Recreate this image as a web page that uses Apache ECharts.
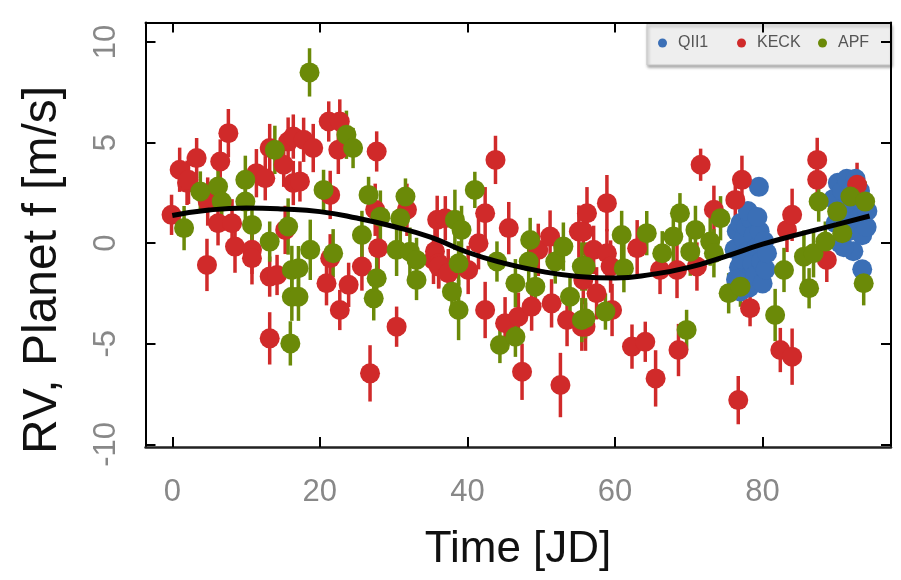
<!DOCTYPE html>
<html>
<head>
<meta charset="utf-8">
<script src="https://cdn.jsdelivr.net/npm/echarts@6/dist/echarts.min.js"></script>
<style>html,body{margin:0;padding:0;background:#fff}#chart{width:901px;height:580px}</style>
</head>
<body>
<div id="chart"></div>
<script>
// tick labels
const xTicks = [0, 20, 40, 60, 80];
const yTicks = [-10, -5, 0, 5, 10];

// series: [time, rv, error]
const qii1 = [
  [76.2,-0.3,0.3],[76.5,0.6,0.3],[76.8,-1.2,0.3],[77.0,1.0,0.3],[77.2,-0.8,0.3],[77.4,0.2,0.3],
  [77.6,-1.8,0.3],[77.8,0.8,0.3],[78.0,-0.4,0.3],[78.2,-2.2,0.3],[78.4,1.2,0.3],[78.6,-1.0,0.3],
  [78.8,0.4,0.3],[79.0,-1.6,0.3],[79.2,-0.2,0.3],[79.5,2.8,0.3],[79.6,0.6,0.3],[79.8,-0.9,0.3],
  [80.0,-2.0,0.3],[80.2,0.1,0.3],[80.4,-1.3,0.3],[80.6,-0.5,0.3],[76.4,-1.8,0.3],[77.0,-2.4,0.3],
  [78.0,1.6,0.3],[79.3,1.3,0.3],
  [89.6,2.2,0.3],[89.9,1.0,0.3],[90.2,3.0,0.3],[90.5,0.0,0.3],[90.8,2.6,0.3],[91.1,1.4,0.3],
  [91.4,3.2,0.3],[91.7,0.6,0.3],[92.0,2.0,0.3],[92.3,-0.4,0.3],[92.6,3.2,0.3],[92.9,1.2,0.3],
  [93.2,2.6,0.3],[93.5,0.4,0.3],[93.8,1.8,0.3],[94.1,0.8,0.3],[93.5,-1.3,0.3],[91.0,-0.2,0.3],
  [92.5,2.2,0.3],[94.2,1.6,0.3]
];
const keck = [
  [-0.1,1.41,1.0],[1.0,3.65,1.1],[2.0,3.0,1.1],[2.2,3.15,1.2],[3.3,4.23,1.0],[4.7,-1.08,1.3],
  [4.8,2.07,1.2],[6.2,0.99,1.1],[6.5,4.06,1.1],[7.6,5.47,1.2],[8.1,0.99,1.2],[8.5,-0.17,1.3],
  [10.8,-0.33,1.2],[10.8,-0.75,1.3],[11.4,3.48,1.2],[12.6,3.23,1.1],[13.2,-1.66,1.0],[13.2,4.73,1.2],
  [13.2,-4.73,1.3],[14.2,-1.58,1.0],[15.1,3.9,1.1],[15.3,0.66,1.2],[15.7,5.05,1.2],[16.4,2.99,1.1],
  [16.4,5.3,1.1],[17.3,3.07,1.0],[17.8,5.14,1.1],[19.1,4.73,1.2],[20.9,-1.99,1.1],[21.2,6.05,1.0],
  [21.4,2.4,1.2],[21.4,-0.75,1.2],[22.5,4.64,1.2],[22.7,6.05,1.1],[22.7,-3.32,1.0],[23.9,-2.07,1.1],
  [25.7,-1.16,1.2],[26.8,-6.47,1.4],[27.5,1.66,1.3],[27.7,4.56,1.0],[27.9,-0.25,1.2],[30.4,-4.15,1.0],
  [31.8,1.66,1.3],[35.4,-0.83,1.2],[35.6,-0.4,1.2],[35.9,1.16,1.2],[36.1,-1.0,1.2],[36.1,-1.16,1.1],
  [37.0,1.24,1.1],[37.4,-1.49,1.2],[40.1,-1.33,1.2],[41.5,0.0,1.3],[42.4,1.49,1.3],[42.4,-3.32,1.4],
  [43.8,4.14,1.2],[45.1,-3.98,1.3],[45.6,0.75,1.3],[46.9,-3.65,1.2],[47.4,-6.39,1.4],[48.7,-3.15,1.2],
  [49.6,-0.33,1.3],[51.2,0.33,1.3],[51.4,-2.99,1.2],[52.6,-7.05,1.6],[53.5,-3.82,1.3],[55.1,0.58,1.3],
  [55.5,-4.15,1.2],[55.7,0.58,1.2],[55.7,-1.83,1.2],[56.0,-4.15,1.2],[56.2,1.49,1.3],[57.1,-0.33,1.2],
  [57.5,-2.49,1.3],[58.9,1.99,1.4],[58.9,-0.5,1.2],[59.4,-1.16,1.3],[59.6,-3.32,1.3],[62.3,-5.14,1.1],
  [63.0,-0.25,1.4],[64.1,-4.9,1.0],[65.5,-6.72,1.4],[66.1,-1.33,1.2],[68.4,-1.33,1.4],[68.6,-5.31,1.3],
  [71.1,-1.16,1.2],[71.6,3.9,0.8],[73.4,1.66,1.2],[76.3,2.15,1.1],[76.7,-7.8,1.2],[77.2,3.15,1.2],
  [78.3,-3.23,0.9],[82.4,-5.31,1.1],[83.3,0.66,1.1],[84.0,1.41,1.3],[84.0,-5.64,1.4],[87.4,3.15,1.0],
  [87.4,4.14,1.1],[88.7,-0.83,1.1],[92.8,2.9,1.1]
];
const apf = [
  [1.6,0.75,1.1],[3.8,2.57,1.0],[6.2,2.82,1.1],[6.7,2.07,1.0],[9.9,3.15,1.2],[9.9,2.07,1.0],
  [10.8,0.91,1.1],[13.2,0.08,1.0],[13.9,4.64,1.2],[15.7,0.83,1.4],[16.0,-4.98,1.1],[16.2,-1.33,1.2],
  [16.2,-2.66,1.2],[17.1,-1.24,1.1],[17.1,-2.66,1.2],[18.6,8.49,1.2],[18.7,-0.33,1.5],[20.5,2.65,1.0],
  [21.8,-0.5,1.2],[23.6,5.39,1.2],[24.5,4.73,1.0],[25.7,0.41,1.2],[26.6,2.4,0.9],[27.3,-2.74,1.1],
  [27.7,-1.74,1.2],[28.2,1.32,1.3],[30.4,-0.33,1.3],[30.9,1.24,1.2],[31.6,2.32,0.9],[32.2,-0.42,1.2],
  [33.1,-0.83,1.1],[33.1,-1.83,1.0],[37.9,-2.41,1.2],[38.3,1.16,1.5],[38.8,-1.0,1.1],[38.8,-3.32,1.5],
  [39.2,0.66,1.2],[41.0,2.65,0.9],[44.0,-0.91,1.0],[44.4,-5.06,0.9],[46.5,-1.99,1.2],[46.5,-4.65,1.0],
  [48.3,-0.91,1.2],[48.5,0.16,1.1],[49.2,-2.16,1.0],[51.9,-0.91,1.1],[53.0,-0.17,1.2],[53.9,-2.66,1.0],
  [55.5,-1.16,1.2],[55.5,-3.82,1.1],[56.0,-1.16,1.2],[56.0,-3.73,1.0],[58.7,-3.4,0.9],[60.9,0.41,1.2],
  [61.2,-1.24,1.2],[64.3,0.5,1.1],[66.4,-0.5,1.1],[67.9,0.33,1.3],[68.8,1.49,1.0],[69.7,-4.31,1.0],
  [70.2,-0.42,1.2],[70.9,0.66,1.2],[72.9,0.08,1.2],[73.4,-0.5,1.2],[74.3,1.24,1.1],[75.4,-2.49,1.0],
  [77.0,-2.16,1.0],[81.7,-3.57,1.3],[82.9,-1.33,1.1],[85.6,-0.67,1.3],[86.3,-2.24,1.0],[86.9,-0.5,1.2],
  [87.6,2.07,1.0],[88.5,0.08,1.0],[90.1,1.57,1.1],[90.8,0.5,1.0],[91.9,2.32,0.9],[93.9,2.07,1.0],
  [93.7,-1.99,1.1]
];
// Keplerian model curve
const modelX = [0,5,10,15,20,25,30,35,40,45,50,55,60,65,70,75,80,85,90,94.5];
const modelY = [1.38,1.65,1.75,1.7,1.57,1.25,0.83,0.3,-0.45,-1.0,-1.4,-1.65,-1.73,-1.55,-1.2,-0.65,-0.05,0.45,0.92,1.35];

const COLORS = {QII1:'#3b6fb6', KECK:'#d02a2a', APF:'#6b8a08'};
const FONT = 'Liberation Sans, Arial, sans-serif';

function errSeries(name, data, color) {
  return {
    type: 'custom', name: name + ' err', data: data, z: 2,
    encode: {x: 0, y: 1},
    renderItem: function (params, api) {
      const x = api.value(0), y = api.value(1), e = api.value(2);
      const p1 = api.coord([x, y - e]), p2 = api.coord([x, y + e]);
      return {type: 'line', shape: {x1: p1[0], y1: p1[1], x2: p2[0], y2: p2[1]},
              style: {stroke: color, lineWidth: 3.5}};
    }
  };
}
function ptSeries(name, data, color) {
  return {type: 'scatter', name: name, data: data.map(d => [d[0], d[1]]), symbol: 'circle',
          symbolSize: 20, itemStyle: {color: color, opacity: 1}, z: 3, silent: true};
}

const chart = echarts.init(document.getElementById('chart'), null, {renderer: 'canvas'});
const xr = {min: -3.63, max: 97.4}, yr = {min: -10.13, max: 10.97};
const tickStyle = {show: true, inside: true, length: 10, lineStyle: {color: '#000', width: 2}};
const lineStyle = {show: true, onZero: false, lineStyle: {color: '#000', width: 2}};
chart.setOption({
  animation: false,
  backgroundColor: '#fff',
  grid: {left: 145.5, right: 10, top: 22.5, bottom: 133, containLabel: false},
  xAxis: [
    {type: 'value', position: 'bottom', min: xr.min, max: xr.max,
     axisLine: {show: true, onZero: false, lineStyle: {color: '#222', width: 2.5}},
     axisTick: Object.assign({customValues: xTicks}, tickStyle),
     axisLabel: {customValues: xTicks, color: '#888', fontSize: 31, fontFamily: FONT, margin: 30},
     splitLine: {show: false}},
    {type: 'value', position: 'top', min: xr.min, max: xr.max, axisLine: lineStyle,
     axisTick: Object.assign({customValues: xTicks}, tickStyle),
     axisLabel: {show: false}, splitLine: {show: false}}
  ],
  yAxis: [
    {type: 'value', position: 'left', min: yr.min, max: yr.max, axisLine: lineStyle,
     axisTick: Object.assign({customValues: yTicks}, tickStyle),
     axisLabel: {customValues: yTicks, color: '#888', fontSize: 31, fontFamily: FONT, rotate: 90, margin: 24},
     splitLine: {show: false}},
    {type: 'value', position: 'right', min: yr.min, max: yr.max, axisLine: lineStyle,
     axisTick: Object.assign({customValues: yTicks}, tickStyle),
     axisLabel: {show: false}, splitLine: {show: false}}
  ],
  legend: [
    {data: ['QII1'], left: 658, top: 35, itemWidth: 9, itemHeight: 9, icon: 'circle', padding: 0,
     textStyle: {color: '#555', fontSize: 16, fontFamily: FONT, padding: [0, 0, 0, 6]}},
    {data: ['KECK'], left: 737, top: 35, itemWidth: 9, itemHeight: 9, icon: 'circle', padding: 0,
     textStyle: {color: '#555', fontSize: 16, fontFamily: FONT, padding: [0, 0, 0, 6]}},
    {data: ['APF'], left: 818, top: 35, itemWidth: 9, itemHeight: 9, icon: 'circle', padding: 0,
     textStyle: {color: '#555', fontSize: 16, fontFamily: FONT, padding: [0, 0, 0, 6]}}
  ],
  graphic: [
    {type: 'rect', shape: {x: 647, y: 24, width: 244, height: 41}, z: 0, zlevel: 0,
     style: {fill: '#eeeeee', stroke: '#c8c8c8', lineWidth: 1, shadowBlur: 3, shadowColor: 'rgba(0,0,0,0.35)', shadowOffsetX: 1, shadowOffsetY: 2}},
    {type: 'text', x: 518, y: 550, z: 10,
     style: {text: 'Time [JD]', fontSize: 44, fontFamily: FONT, fill: '#111', align: 'center', verticalAlign: 'middle'}},
    {type: 'text', x: 43, y: 270, rotation: Math.PI / 2, z: 10,
     style: {text: 'RV, Planet f [m/s]', fontSize: 48, fontFamily: FONT, fill: '#111', align: 'center', verticalAlign: 'middle'}}
  ],
  series: [
    errSeries('QII1', qii1, COLORS.QII1), ptSeries('QII1', qii1, COLORS.QII1),
    errSeries('KECK', keck, COLORS.KECK), ptSeries('KECK', keck, COLORS.KECK),
    errSeries('APF', apf, COLORS.APF), ptSeries('APF', apf, COLORS.APF),
    {type: 'line', name: 'model', data: modelX.map((x, i) => [x, modelY[i]]), smooth: true,
     showSymbol: false, lineStyle: {color: '#000', width: 5}, z: 5, silent: true}
  ]
});
</script>
</body>
</html>
